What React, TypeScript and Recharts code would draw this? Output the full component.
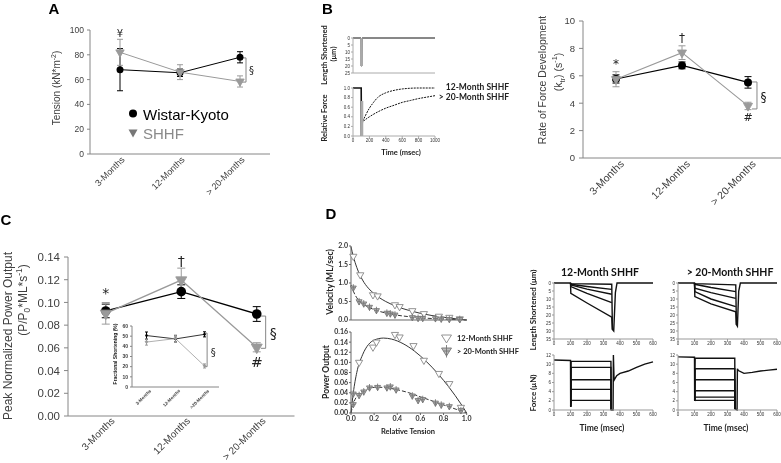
import React from 'react'
import { ComposedChart, Line, XAxis, YAxis, ErrorBar, ReferenceLine, ReferenceDot } from 'recharts'

// ---- categories
const ageGroups = ['3-Months', '12-Months', '> 20-Months']
const insetGroups = ['3-Months', '12-Months', '>20-Months']

// ---- A: tension (kN*m-2)
const tensionWky = [68, 65.5, 78]
const tensionWkyErr = [17, 3, 4.5]
const tensionShhf = [82, 66, 58.5]
const tensionShhfErr = [10.5, 6, 4.5]
const tensionTicks = [0, 20, 40, 60, 80, 100]

// ---- B right: ktr (s-1)
const ktrWky = [5.77, 6.76, 5.52]
const ktrWkyErr = [0.3, 0.25, 0.42]
const ktrShhf = [5.75, 7.69, 3.8]
const ktrShhfErr = [0.55, 0.5, 0.27]
const ktrTicks = [0, 2, 4, 6, 8, 10]

// ---- C: peak normalized power output
const powerWky = [0.0925, 0.1095, 0.0898]
const powerWkyErr = [0.006, 0.006, 0.0065]
const powerShhf = [0.0904, 0.1197, 0.0605]
const powerShhfErr = [0.0095, 0.0105, 0.004]
const powerTicks = [0, 0.02, 0.04, 0.06, 0.08, 0.1, 0.12, 0.14]

// ---- C inset: fractional shortening (%)
const fsWky = [50.6, 47.3, 51.8]
const fsWkyErr = [3.5, 3, 2.5]
const fsShhf = [44.2, 47.6, 20.7]
const fsShhfErr = [3, 3.5, 2]
const fsTicks = [0, 10, 20, 30, 40, 50, 60]

// ---- B left: slack-restretch traces (time msec, value)
const bLenTrace: [number, number][] = [[0, 0], [98, 0], [100, 20], [108, 20], [110, 0], [1000, 0]]
const bLenBar: [number, number][] = [[103, 0], [103, 20]]
const bForcePre: [number, number][] = [[0, 1], [100, 1], [103, 0]]
const bForce12: [number, number][] = [[103, 0], [110, 0.28], [125, 0.33], [150, 0.42], [200, 0.58], [250, 0.7], [300, 0.8], [400, 0.9], [500, 0.95], [600, 0.98], [800, 1], [1000, 1]]
const bForce20: [number, number][] = [[103, 0], [110, 0.25], [125, 0.3], [150, 0.34], [200, 0.4], [300, 0.5], [400, 0.58], [500, 0.64], [600, 0.7], [700, 0.74], [800, 0.78], [900, 0.81], [1000, 0.84]]
const bForceBar: [number, number][] = [[110, 0.73], [110, 0]]
const bLenTicks = [0, 5, 10, 15, 20, 25]
const bForceTicks = [0, 0.2, 0.4, 0.6, 0.8, 1]
const bTimeTicks = [0, 200, 400, 600, 800, 1000]

// ---- D: force-velocity and power (relative tension, value)
const vel12Pts: [number, number][] = [[0.02, 1.72], [0.08, 1.22], [0.19, 0.68], [0.23, 0.65], [0.38, 0.41], [0.42, 0.36], [0.53, 0.25], [0.63, 0.17], [0.76, 0.1], [0.85, 0.07], [0.94, 0.03]]
const vel20Pts: [number, number][] = [[0.02, 0.87], [0.07, 0.5], [0.11, 0.44], [0.16, 0.35], [0.22, 0.26], [0.31, 0.19], [0.34, 0.17], [0.38, 0.14], [0.53, 0.07], [0.58, 0.05], [0.62, 0.05], [0.73, 0.04], [0.78, 0.03], [0.85, 0.02], [0.94, 0.02]]
const vel12Fit: [number, number][] = [[0, 1.98], [0.02, 1.72], [0.05, 1.42], [0.1, 1.08], [0.15, 0.86], [0.2, 0.71], [0.3, 0.5], [0.4, 0.36], [0.5, 0.26], [0.6, 0.18], [0.7, 0.12], [0.8, 0.075], [0.9, 0.035], [1, 0]]
const vel20Fit: [number, number][] = [[0, 0.95], [0.02, 0.78], [0.05, 0.6], [0.1, 0.44], [0.15, 0.35], [0.2, 0.28], [0.3, 0.19], [0.4, 0.13], [0.5, 0.09], [0.6, 0.06], [0.7, 0.04], [0.8, 0.025], [0.9, 0.012], [1, 0]]
const pow12Pts: [number, number][] = [[0.07, 0.1], [0.19, 0.13], [0.22, 0.14], [0.38, 0.155], [0.42, 0.15], [0.54, 0.133], [0.63, 0.104], [0.76, 0.078], [0.85, 0.058], [0.95, 0.011]]
const pow20Pts: [number, number][] = [[0.02, 0.038], [0.02, 0.017], [0.07, 0.035], [0.11, 0.042], [0.16, 0.05], [0.23, 0.051], [0.31, 0.05], [0.34, 0.052], [0.39, 0.046], [0.53, 0.034], [0.58, 0.025], [0.62, 0.027], [0.73, 0.02], [0.78, 0.016], [0.85, 0.013], [0.95, 0.005]]
const pow12Fit: [number, number][] = [[0, 0], [0.02, 0.04], [0.05, 0.08], [0.1, 0.115], [0.15, 0.135], [0.2, 0.144], [0.28, 0.148], [0.35, 0.146], [0.45, 0.137], [0.55, 0.122], [0.65, 0.102], [0.75, 0.078], [0.85, 0.05], [0.95, 0.018], [1, 0]]
const pow20Fit: [number, number][] = [[0, 0], [0.02, 0.018], [0.05, 0.033], [0.1, 0.043], [0.15, 0.048], [0.22, 0.051], [0.3, 0.05], [0.4, 0.046], [0.5, 0.04], [0.6, 0.032], [0.7, 0.024], [0.8, 0.016], [0.9, 0.008], [1, 0]]
const velTicks = [0, 0.5, 1, 1.5, 2]
const powTicks = [0, 0.02, 0.04, 0.06, 0.08, 0.1, 0.12, 0.14, 0.16]
const relTicks = [0, 0.2, 0.4, 0.6, 0.8, 1]

// ---- D: length / force traces (time msec, value)
const len12: [number, number][][] = [
  [[0, 0], [100, 0], [102, 0.4], [350, 0.8], [354, 29], [362, 30], [372, 6], [382, 0], [600, 0]],
  [[100, 0], [102, 0.8], [200, 2.2], [350, 4]],
  [[100, 0], [102, 1.2], [200, 3.8], [350, 7]],
  [[100, 0], [102, 2.2], [200, 6.5], [350, 12.3]],
  [[100, 0], [102, 6.5], [200, 12.5], [350, 21.4], [354, 29]],
]
const len20: [number, number][][] = [
  [[0, 0], [100, 0], [102, 0.4], [350, 1.2], [354, 26], [360, 27], [368, 5], [378, 0], [600, 0]],
  [[100, 0], [102, 0.8], [200, 2.8], [350, 5.4]],
  [[100, 0], [102, 3.3], [200, 6], [350, 9.6]],
  [[100, 0], [102, 5.4], [200, 10], [350, 14.8]],
  [[100, 0], [102, 8.5], [200, 13], [350, 18], [354, 26]],
]
const force12: [number, number][][] = [
  [[0, 10.9], [100, 10.8], [101, 0.7], [104, 10.6], [345, 10.6], [347, 0], [358, 0], [360, 12], [364, 6.5], [380, 7.5], [400, 8], [450, 8.5], [500, 9.3], [550, 10], [600, 10.5]],
  [[101, 0.7], [104, 9.3], [345, 9.3], [347, 0]],
  [[101, 0.7], [104, 6.6], [345, 6.6], [347, 0]],
  [[101, 0.7], [104, 4.5], [345, 4.5], [347, 0]],
  [[101, 0.7], [104, 2.1], [345, 2.1], [347, 0]],
]
const force20: [number, number][][] = [
  [[0, 11.6], [100, 11.5], [101, 2], [104, 11.3], [344, 11.3], [346, 0.2], [358, 0], [360, 9], [366, 8.6], [400, 8], [450, 8.2], [500, 8.5], [550, 8.7], [600, 8.9]],
  [[101, 2], [104, 9], [344, 9], [346, 0.2]],
  [[101, 2], [104, 6.6], [344, 6.6], [346, 0.2]],
  [[101, 2], [104, 4.2], [344, 4.2], [346, 0.2]],
  [[101, 2], [104, 2.8], [344, 2.8], [346, 0.2]],
  [[101, 2], [104, 2.1], [344, 2.1], [346, 0.2]],
]
const traceTime = [0, 100, 200, 300, 400, 500, 600]
const lenTicks = [0, 5, 10, 15, 20, 25, 30, 35]
const forceTicks = [0, 2, 4, 6, 8, 10, 12]

const ARIAL = '"Liberation Sans", Arial, sans-serif'
const SYMBOL = '"DejaVu Sans", "Liberation Sans", sans-serif'
const CAL = 'Lato, "Open Sans", sans-serif'
const AXIS = '#868686'
const TEXT = '#404040'
const GRAY = '#9a9a9a'
const PAD = 14

type Box = { x0: number; x1: number; y0: number; y1: number }

function frame(b: Box, yw: number, xh: number) {
  return {
    style: { position: 'absolute' as const, left: b.x0 - yw, top: b.y0 - PAD },
    width: b.x1 - b.x0 + yw + PAD,
    height: b.y1 - b.y0 + PAD + xh,
    margin: { top: PAD, right: PAD, bottom: 0, left: 0 },
  }
}

const circleDot = (r: number, fill: string) => (p: any) =>
  p.cx == null ? <g key={`c${p.index}`} /> : <circle key={`c${p.index}`} cx={p.cx} cy={p.cy} r={r} fill={fill} />

const triDot = (s: number, fill: string, stroke: string, cross = false) => (p: any) => {
  if (p.cx == null) return <g key={`t${p.index}`} />
  const { cx, cy } = p
  const pts = `${cx - s},${cy - s * 0.58} ${cx + s},${cy - s * 0.58} ${cx},${cy + s * 1.15}`
  return (
    <g key={`t${p.index}`}>
      <polygon points={pts} fill={fill} stroke={stroke} strokeWidth={0.9} />
      {cross && <line x1={cx} x2={cx} y1={cy - s * 1.2} y2={cy + s * 1.2} stroke={stroke} strokeWidth={0.9} />}
      {cross && <line x1={cx - s * 0.6} x2={cx + s * 0.6} y1={cy} y2={cy} stroke={stroke} strokeWidth={0.9} />}
    </g>
  )
}

// annotation symbol drawn at a data point
const symbolShape = (t: string, size: number) => (p: any) => (
  <text x={p.cx} y={p.cy} dy="0.35em" textAnchor="middle" fontSize={size} fill="#222" stroke="none"
    style={{ fontFamily: SYMBOL, fontWeight: 400 }}>{t}</text>
)

const catTick = (labels: string[], size: number, dx: number, dy: number, color = TEXT) => (p: any) => {
  const x = p.x + dx
  const y = p.y + dy
  return (
    <text key={`k${p.index}`} x={x} y={y} dy="0.35em" transform={`rotate(-45 ${x} ${y})`} textAnchor="end" fontSize={size} fill={color}>
      {labels[p.payload.value]}
    </text>
  )
}

type Mark = { x: number; y: number; t: string; size: number }
type AgeProps = {
  box: Box; yw: number; xh: number; labels: string[]
  domain: [number, number]; ticks: number[]; fmt?: (v: number) => string
  tickFont: number; tickSize: number; catFont: number; catDx: number; catDy: number
  wky: number[]; wkyErr: number[]; shhf: number[]; shhfErr: number[]
  dotR: number; triS: number; cap: number; lineW: number
  marks: Mark[]; bracket: { x: number; tip: number; y1: number; y2: number }
  bold?: boolean
}

function AgePanel(p: AgeProps) {
  const f = frame(p.box, p.yw, p.xh)
  const data = p.labels.map((_, i) => ({ x: i, wky: p.wky[i], wkyErr: p.wkyErr[i], shhf: p.shhf[i], shhfErr: p.shhfErr[i] }))
  const b = p.bracket
  return (
    <div style={{ ...f.style, fontFamily: ARIAL, fontWeight: p.bold ? 700 : 400 }}>
      <ComposedChart width={f.width} height={f.height} margin={f.margin} data={data}>
        <XAxis type="number" dataKey="x" domain={[-0.5, p.labels.length - 0.5]} ticks={p.labels.map((_, i) => i)} interval={0}
          height={p.xh} stroke={AXIS} tickLine={false} tickSize={0} tickMargin={0}
          tick={catTick(p.labels, p.catFont, p.catDx, p.catDy)} />
        <YAxis type="number" domain={p.domain} ticks={p.ticks} interval={0} width={p.yw} stroke={AXIS}
          tickSize={p.tickSize} tickMargin={p.tickSize} tick={{ fontSize: p.tickFont, fill: TEXT }} tickFormatter={p.fmt} />
        <Line type="linear" dataKey="wky" stroke="#000" strokeWidth={p.lineW} dot={circleDot(p.dotR, '#000')} isAnimationActive={false}>
          <ErrorBar dataKey="wkyErr" direction="y" width={p.cap} stroke="#000" strokeWidth={1} />
        </Line>
        <Line type="linear" dataKey="shhf" stroke={GRAY} strokeWidth={p.lineW} dot={triDot(p.triS, GRAY, GRAY)} isAnimationActive={false}>
          <ErrorBar dataKey="shhfErr" direction="y" width={p.cap} stroke={GRAY} strokeWidth={1} />
        </Line>
        <ReferenceLine segment={[{ x: b.x, y: b.y1 }, { x: b.x, y: b.y2 }]} stroke={AXIS} />
        <ReferenceLine segment={[{ x: b.tip, y: b.y1 }, { x: b.x, y: b.y1 }]} stroke={AXIS} />
        <ReferenceLine segment={[{ x: b.tip, y: b.y2 }, { x: b.x, y: b.y2 }]} stroke={AXIS} />
        {p.marks.map((m, i) => (
          <ReferenceDot key={i} x={m.x} y={m.y} r={1} shape={symbolShape(m.t, m.size)} />
        ))}
      </ComposedChart>
    </div>
  )
}

type Series = { pts: [number, number][]; stroke: string; width?: number; dash?: string; dot?: any; curve?: 'linear' | 'monotone' }
type TraceProps = {
  box: Box; yw: number; xh: number
  xDomain: [number, number]; yDomain: [number, number]
  xTicks?: number[]; yTicks: number[]
  xFmt?: (v: number) => string; yFmt?: (v: number) => string
  reversed?: boolean; font: number; bold?: boolean; showX: boolean
  axis?: string; series: Series[]
}

function TracePanel(p: TraceProps) {
  const f = frame(p.box, p.yw, p.xh)
  const axis = p.axis ?? '#777'
  return (
    <div style={{ ...f.style, fontFamily: p.bold ? CAL : ARIAL, fontWeight: p.bold ? 700 : 400 }}>
      <ComposedChart width={f.width} height={f.height} margin={f.margin}>
        <XAxis type="number" dataKey="t" domain={p.xDomain} ticks={p.xTicks} interval={0} height={p.xh} stroke={axis}
          tickSize={2} tickMargin={1} tick={p.showX ? { fontSize: p.font, fill: '#333' } : false} tickFormatter={p.xFmt} />
        <YAxis type="number" domain={p.yDomain} ticks={p.yTicks} interval={0} width={p.yw} stroke={axis} reversed={p.reversed}
          tickSize={2} tickMargin={1} tick={{ fontSize: p.font, fill: '#333' }} tickFormatter={p.yFmt} />
        {p.series.map((s, i) => (
          <Line key={i} data={s.pts.map(([t, v]) => ({ t, v }))} dataKey="v" type={s.curve ?? 'linear'} stroke={s.stroke}
            strokeWidth={s.width ?? 1} strokeDasharray={s.dash} dot={s.dot ?? false} activeDot={false} isAnimationActive={false} />
        ))}
      </ComposedChart>
    </div>
  )
}

type TxtProps = {
  x: number; y: number; size: number; rot?: number; bold?: boolean; color?: string
  font?: string; align?: 'center' | 'left' | 'right'; children: React.ReactNode
}
function Txt({ x, y, size, rot = 0, bold = false, color = TEXT, font = ARIAL, align = 'center', children }: TxtProps) {
  const tx = align === 'center' ? '-50%' : align === 'right' ? '-100%' : '0%'
  return (
    <div style={{
      position: 'absolute', left: x, top: y, transform: `translate(${tx}, -50%) rotate(${rot}deg)`,
      fontSize: size, fontWeight: bold ? 700 : 400, color, fontFamily: font, whiteSpace: 'nowrap', lineHeight: 1,
    }}>
      {children}
    </div>
  )
}
const sup = { fontSize: '0.7em', verticalAlign: 'super', lineHeight: 0 } as const
const sub = { fontSize: '0.7em', verticalAlign: 'sub', lineHeight: 0 } as const

const fix = (n: number) => (v: number) => v.toFixed(n)
const black = '#111'
const traces = (sets: [number, number][][]): Series[] => sets.map((pts) => ({ pts, stroke: black, width: 1.4 }))

export default function App() {
  return (
    <div style={{ position: 'absolute', left: 0, top: 0, width: 781, height: 463, overflow: 'hidden', willChange: 'transform' }}>
      <style>{'.recharts-surface{overflow:visible}'}</style>

      {/* Panel A */}
      <AgePanel box={{ x0: 90, x1: 270, y0: 30, y1: 154 }} yw={30} xh={40} labels={ageGroups}
        domain={[0, 100]} ticks={tensionTicks} tickFont={8.5} tickSize={3} catFont={9} catDx={3} catDy={4}
        wky={tensionWky} wkyErr={tensionWkyErr} shhf={tensionShhf} shhfErr={tensionShhfErr}
        dotR={3.5} triS={4.2} cap={3} lineW={1}
        marks={[{ x: 0, y: 97.5, t: '¥', size: 10 }, { x: 2.19, y: 67.7, t: '§', size: 10 }]}
        bracket={{ x: 2.1, tip: 2.03, y1: 77.5, y2: 58 }} />
      <Txt x={54} y={8} size={15} bold color="#000">A</Txt>
      <Txt x={57} y={88} size={10} rot={-90}>Tension (kN*m<span style={sup}>-2</span>)</Txt>
      <svg style={{ position: 'absolute', left: 127, top: 107 }} width={12} height={32}>
        <circle cx={6} cy={6.5} r={4} fill="#000" />
        <polygon points="1.5,22.5 10.5,22.5 6,30.5" fill="#777" />
      </svg>
      <Txt x={143} y={113.5} size={15} align="left" color="#000">Wistar-Kyoto</Txt>
      <Txt x={143} y={133} size={15} align="left" color="#8a8a8a">SHHF</Txt>

      {/* Panel B left */}
      <TracePanel box={{ x0: 353, x1: 435, y0: 38, y1: 73 }} yw={10} xh={2} xDomain={[0, 1000]} yDomain={[0, 25]}
        xTicks={bTimeTicks} yTicks={bLenTicks} reversed font={4.5} showX={false} axis="#aaa"
        series={[{ pts: bLenTrace, stroke: black, width: 1 }, { pts: bLenBar, stroke: '#aaa', width: 2.5 }]} />
      <TracePanel box={{ x0: 353, x1: 435, y0: 88, y1: 136 }} yw={10} xh={10} xDomain={[0, 1000]} yDomain={[0, 1]}
        xTicks={bTimeTicks} yTicks={bForceTicks} yFmt={fix(1)} font={4.5} showX axis="#aaa"
        series={[
          { pts: bForcePre, stroke: black, width: 1.6 },
          { pts: bForce12, stroke: black, width: 1, dash: '2 1', curve: 'monotone' },
          { pts: bForce20, stroke: black, width: 1, dash: '2 1', curve: 'monotone' },
          { pts: bForceBar, stroke: '#aaa', width: 2.5 },
        ]} />
      <Txt x={327.5} y={8} size={15} bold color="#000">B</Txt>
      <Txt x={325} y={55} size={7.5} rot={-90} bold font={CAL} color="#222">Length Shortened</Txt>
      <Txt x={334} y={54} size={7.5} rot={-90} bold font={CAL} color="#222">(μm)</Txt>
      <Txt x={325} y={118} size={7.5} rot={-90} bold font={CAL} color="#222">Relative Force</Txt>
      <Txt x={401} y={153} size={7.5} bold font={CAL} color="#222">Time (msec)</Txt>
      <Txt x={509} y={87} size={8.5} bold font={CAL} color="#222" align="right">12-Month SHHF</Txt>
      <Txt x={509} y={97} size={8.5} bold font={CAL} color="#222" align="right">&gt; 20-Month SHHF</Txt>

      {/* Panel B right */}
      <AgePanel box={{ x0: 583, x1: 781, y0: 21, y1: 158 }} yw={28} xh={45} labels={ageGroups}
        domain={[0, 10]} ticks={ktrTicks} tickFont={9.5} tickSize={4} catFont={10.5} catDx={6} catDy={4}
        wky={ktrWky} wkyErr={ktrWkyErr} shhf={ktrShhf} shhfErr={ktrShhfErr}
        dotR={4} triS={4.5} cap={3.5} lineW={1.1}
        marks={[{ x: 0, y: 6.9, t: '*', size: 12 }, { x: 1, y: 8.8, t: '†', size: 12 }, { x: 2, y: 3.0, t: '#', size: 11 }, { x: 2.235, y: 4.45, t: '§', size: 12 }]}
        bracket={{ x: 2.136, tip: 2.06, y1: 5.55, y2: 3.58 }} />
      <Txt x={542} y={80} size={10.5} rot={-90}>Rate of Force Development</Txt>
      <Txt x={558} y={72} size={10.5} rot={-90}>(k<span style={sub}>tr</span>) (s<span style={sup}>-1</span>)</Txt>

      {/* Panel C */}
      <AgePanel box={{ x0: 68, x1: 294.5, y0: 257, y1: 416 }} yw={38} xh={47} labels={ageGroups}
        domain={[0, 0.14]} ticks={powerTicks} fmt={fix(2)} tickFont={11.5} tickSize={4} catFont={10} catDx={7} catDy={3}
        wky={powerWky} wkyErr={powerWkyErr} shhf={powerShhf} shhfErr={powerShhfErr}
        dotR={4.8} triS={5.5} cap={4} lineW={1.4}
        marks={[{ x: 0, y: 0.108, t: '*', size: 14 }, { x: 1, y: 0.1365, t: '†', size: 14 }, { x: 2, y: 0.0478, t: '#', size: 14 }, { x: 2.22, y: 0.0728, t: '§', size: 14 }]}
        bracket={{ x: 2.118, tip: 2.056, y1: 0.088, y2: 0.0596 }} />
      <AgePanel box={{ x0: 132, x1: 219, y0: 326, y1: 387 }} yw={14} xh={25} labels={insetGroups}
        domain={[0, 60]} ticks={fsTicks} tickFont={5} tickSize={2} catFont={4.5} catDx={4} catDy={3}
        wky={fsWky} wkyErr={fsWkyErr} shhf={fsShhf} shhfErr={fsShhfErr}
        dotR={1.3} triS={1.4} cap={1.5} lineW={0.8} bold
        marks={[{ x: 2.3, y: 34, t: '§', size: 10 }]}
        bracket={{ x: 2.09, tip: 2.0, y1: 53, y2: 20 }} />
      <Txt x={6} y={219} size={15} bold color="#000">C</Txt>
      <Txt x={8} y={336} size={12} rot={-90}>Peak Normalized Power Output</Txt>
      <Txt x={23} y={300} size={12} rot={-90}>(P/P<span style={sub}>0</span>*ML*s<span style={sup}>-1</span>)</Txt>
      <Txt x={115} y={354} size={5} rot={-90} bold color="#222">Fractional Shortening (%)</Txt>

      {/* Panel D: force-velocity and power */}
      <TracePanel box={{ x0: 351, x1: 466.7, y0: 246, y1: 320 }} yw={14} xh={2} xDomain={[0, 1]} yDomain={[0, 2]}
        xTicks={relTicks} yTicks={velTicks} yFmt={fix(1)} font={7} bold showX={false} axis="#666"
        series={[
          { pts: vel12Fit, stroke: '#333', width: 1, curve: 'monotone' },
          { pts: vel20Fit, stroke: '#333', width: 1, dash: '4 2', curve: 'monotone' },
          { pts: vel12Pts, stroke: 'none', dot: triDot(3.6, '#fff', '#888') },
          { pts: vel20Pts, stroke: 'none', dot: triDot(3, '#bbb', '#777', true) },
        ]} />
      <TracePanel box={{ x0: 351, x1: 466.7, y0: 332, y1: 413 }} yw={16} xh={12} xDomain={[0, 1]} yDomain={[0, 0.16]}
        xTicks={relTicks} yTicks={powTicks} xFmt={fix(1)} yFmt={fix(2)} font={7} bold showX axis="#666"
        series={[
          { pts: pow12Fit, stroke: '#333', width: 1, curve: 'monotone' },
          { pts: pow20Fit, stroke: '#333', width: 1, dash: '4 2', curve: 'monotone' },
          { pts: pow12Pts, stroke: 'none', dot: triDot(3.6, '#fff', '#888') },
          { pts: pow20Pts, stroke: 'none', dot: triDot(3, '#bbb', '#777', true) },
        ]} />
      <Txt x={331} y={213} size={15} bold color="#000">D</Txt>
      <Txt x={330} y={282} size={8.5} rot={-90} bold font={CAL} color="#222">Velocity (ML/sec)</Txt>
      <Txt x={326} y={372} size={8.5} rot={-90} bold font={CAL} color="#222">Power Output</Txt>
      <Txt x={408} y={432} size={7.5} bold font={CAL} color="#222">Relative Tension</Txt>
      <svg style={{ position: 'absolute', left: 440, top: 332 }} width={14} height={26}>
        <polygon points="1.5,3 11.5,3 6.5,11" fill="#fff" stroke="#888" strokeWidth={0.9} />
        <polygon points="1.5,16 11.5,16 6.5,24" fill="#bbb" stroke="#777" strokeWidth={0.9} />
        <line x1={6.5} x2={6.5} y1={13} y2={25.5} stroke="#777" strokeWidth={0.9} />
        <line x1={3.5} x2={9.5} y1={19} y2={19} stroke="#777" strokeWidth={0.9} />
      </svg>
      <Txt x={457} y={339} size={7.5} bold font={CAL} color="#222" align="left">12-Month SHHF</Txt>
      <Txt x={457} y={352} size={7.5} bold font={CAL} color="#222" align="left">&gt; 20-Month SHHF</Txt>

      {/* Panel D: length and force traces */}
      <TracePanel box={{ x0: 554, x1: 653, y0: 283, y1: 339 }} yw={9} xh={10} xDomain={[0, 600]} yDomain={[0, 35]}
        xTicks={traceTime} yTicks={lenTicks} reversed font={4.5} showX axis="#999" series={traces(len12)} />
      <TracePanel box={{ x0: 554, x1: 653, y0: 355, y1: 410 }} yw={9} xh={10} xDomain={[0, 600]} yDomain={[0, 12]}
        xTicks={traceTime} yTicks={forceTicks} font={4.5} showX axis="#999" series={traces(force12)} />
      <TracePanel box={{ x0: 678, x1: 777, y0: 283, y1: 339 }} yw={9} xh={10} xDomain={[0, 600]} yDomain={[0, 35]}
        xTicks={traceTime} yTicks={lenTicks} reversed font={4.5} showX axis="#999" series={traces(len20)} />
      <TracePanel box={{ x0: 678, x1: 777, y0: 355, y1: 410 }} yw={9} xh={10} xDomain={[0, 600]} yDomain={[0, 12]}
        xTicks={traceTime} yTicks={forceTicks} font={4.5} showX axis="#999" series={traces(force20)} />
      <Txt x={600} y={272} size={10.5} bold font={CAL} color="#111">12-Month SHHF</Txt>
      <Txt x={730} y={272} size={10.5} bold font={CAL} color="#111">&gt; 20-Month SHHF</Txt>
      <Txt x={533} y={310} size={8} rot={-90} bold font={CAL} color="#222">Length Shortened (μm)</Txt>
      <Txt x={533} y={393} size={8} rot={-90} bold font={CAL} color="#222">Force (μN)</Txt>
      <Txt x={602} y={428} size={8.5} bold font={CAL} color="#222">Time (msec)</Txt>
      <Txt x={726} y={428} size={8.5} bold font={CAL} color="#222">Time (msec)</Txt>
    </div>
  )
}
